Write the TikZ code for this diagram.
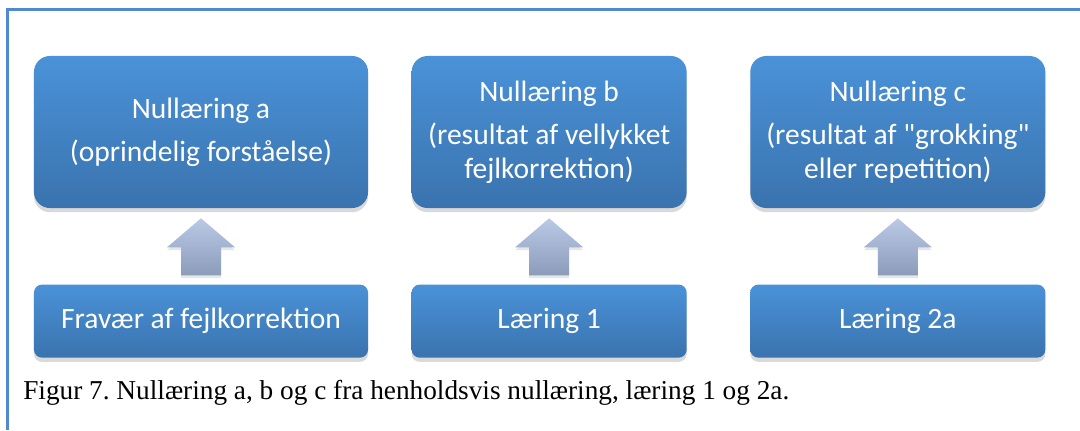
\documentclass[tikz,border=0pt]{standalone}
\usepackage{fontspec}
\setmainfont{Liberation Serif}
\newfontfamily\boxfont{Carlito}
\usetikzlibrary{positioning, shadows, calc}

\definecolor{boxtop}{RGB}{74,146,216}
\definecolor{boxbottom}{RGB}{58,115,174}
\definecolor{arrowtop}{RGB}{186,201,229}
\definecolor{arrowbottom}{RGB}{139,156,187}
\definecolor{framecol}{RGB}{80,137,208}
\frenchspacing

\begin{document}
\begin{tikzpicture}[x=0.025cm, y=-0.025cm,
  box/.style={top color=boxtop, bottom color=boxbottom, text=white, align=center,
    inner sep=0pt, font=\boxfont\fontsize{21}{24.2}\selectfont,
    drop shadow={shadow xshift=0pt, shadow yshift=-3pt, opacity=0.3}},
  top box/.style={box, rounded corners=0.4cm, minimum height=3.8cm},
  low box/.style={box, rounded corners=0.2cm, minimum height=1.825cm},
  arrow fill/.style={top color=arrowtop, bottom color=arrowbottom,
    drop shadow={shadow xshift=0pt, shadow yshift=-2pt, opacity=0.2}}]

\useasboundingbox (0,0) rectangle (1080,430);
\draw[framecol, line width=1.6pt] (7.5,430) -- (7.5,9.5) -- (1080,9.5);

\node[top box, minimum width=8.35cm] (na) at (201,132)
  {Nullæring a\\[6.4pt](oprindelig forståelse)};
\node[top box, minimum width=6.875cm] (nb) [right=1.075cm of na]
  {Nullæring b\\[6.4pt](resultat af vellykket\\fejlkorrektion)};
\node[top box, minimum width=7.375cm] (nc) [right=1.575cm of nb]
  {Nullæring c\\[6.4pt](resultat af "grokking"\\eller repetition)};

\node[low box, minimum width=8.35cm] (fa) [below=1.9cm of na] {Fravær af fejlkorrektion};
\node[low box, minimum width=6.875cm] (l1) [below=1.9cm of nb] {Læring 1};
\node[low box, minimum width=7.375cm] (l2a) [below=1.9cm of nc] {Læring 2a};

\foreach \lo/\up in {fa/na, l1/nb, l2a/nc}
  \shade[arrow fill] ($(\lo.north)+(-20,-9)$) -- ($(\lo.north)+(-20,-37)$)
    -- ($(\lo.north)+(-34,-37)$) -- ($(\up.south)+(0,10)$)
    -- ($(\lo.north)+(34,-37)$) -- ($(\lo.north)+(20,-37)$)
    -- ($(\lo.north)+(20,-9)$) -- cycle;

\node[anchor=base west, inner sep=0pt, font=\fontsize{19.4}{23}\selectfont] (cap) at (23,399)
  {Figur 7. Nullæring a, b og c fra henholdsvis nullæring, læring 1 og 2a.};

\end{tikzpicture}
\end{document}
